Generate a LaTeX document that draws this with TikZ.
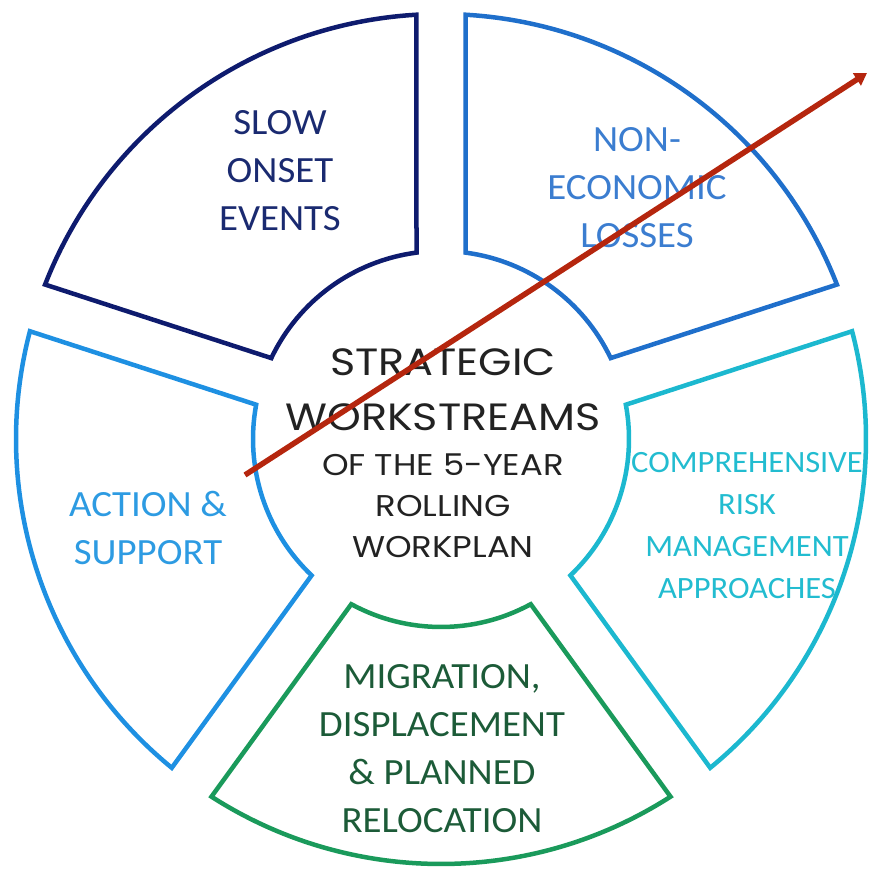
\documentclass[tikz,border=0pt]{standalone}
\usepackage{fontspec}
\setmainfont[FakeStretch=1.05]{Carlito}
\newfontfamily\gothic[FakeStretch=1.13]{Poppins}
\usetikzlibrary{calc,arrows.meta}
\definecolor{navyseg}{HTML}{0E1B6E}
\definecolor{blueseg}{HTML}{1F6FCB}
\definecolor{cyanseg}{HTML}{1CB8CF}
\definecolor{greenseg}{HTML}{1A9A5B}
\definecolor{skyseg}{HTML}{1E90E2}
\definecolor{navytxt}{HTML}{1A2A70}
\definecolor{bluetxt}{HTML}{3B7DD0}
\definecolor{cyantxt}{HTML}{22BCD0}
\definecolor{greentxt}{HTML}{1C5B38}
\definecolor{skytxt}{HTML}{2D9BE2}
\definecolor{arrowred}{HTML}{B5260E}
\definecolor{centretxt}{HTML}{222222}
\begin{document}
\begin{tikzpicture}[x=1pt,y=1pt]
      \tikzset{seg/.style={line width=4.5pt},
        lbl/.style={align=center, inner sep=0pt, font=\fontsize{37}{48}\selectfont},
        centre/.style={align=center, inner sep=0pt, text=centretxt}}
      \useasboundingbox (0,0) rectangle (869,868);
      \coordinate (c) at (441,429);

      % five ring pieces of 72 degrees, with a gap of even width between them
      \foreach \a/\col in {90/navyseg,18/blueseg,-54/cyanseg,-126/greenseg,162/skyseg} {
        \draw[seg,\col] ($(c)+(\a+7.49:188)$) -- ($(c)+(\a+3.31:425)$)
          arc[start angle=\a+3.31, end angle=\a+68.69, radius=425]
          -- ($(c)+(\a+64.51:188)$)
          arc[start angle=\a+64.51, end angle=\a+7.49, radius=188] -- cycle;
      }

      \node[lbl, text=navytxt] (slow) at (280,697) {SLOW\\ONSET\\EVENTS};
      \node[lbl, text=bluetxt] (noneco) at (637,680) {NON-\\ECONOMIC\\LOSSES};
      \node[lbl, text=skytxt] (action) at (148,340) {ACTION \&\\SUPPORT};
      \node[lbl, text=cyantxt, font=\fontsize{31}{42}\selectfont] (crm) at (747,342)
        {COMPREHENSIVE\\RISK\\MANAGEMENT\\APPROACHES};
      \node[lbl, text=greentxt] (migr) at (442,119)
        {MIGRATION,\\DISPLACEMENT\\\& PLANNED\\RELOCATION};

      \node[centre, font=\gothic\fontsize{38}{55}\selectfont] (strat) at (443,478)
        {STRATEGIC\\WORKSTREAMS};
      \node[centre, font=\gothic\fontsize{30}{41}\selectfont] (plan) at (443,362)
        {OF THE 5-YEAR\\ROLLING\\WORKPLAN};

      \coordinate (tail) at (245,393);
      \coordinate (tip) at (867,795);
      \draw[arrowred, line width=5.5pt, -{Triangle[length=12pt,width=14pt]}] (tail) -- (tip);
\end{tikzpicture}
\end{document}
